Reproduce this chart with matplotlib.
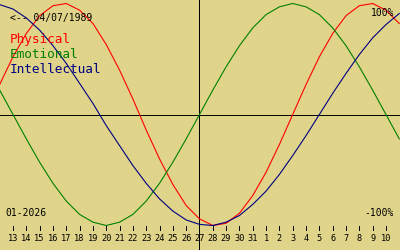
import matplotlib
matplotlib.use("Agg")
import matplotlib.pyplot as plt

# day offsets (0 = Jan 13) of the daily sample points, Jan 12 .. Feb 11
day_offsets = list(range(-1, 30))
tick_labels = [str(d) for d in range(13, 32)] + [str(d) for d in range(1, 11)]

physical = [27, 52, 73, 89, 98, 100, 94, 82, 63, 40, 14, -14, -40, -63, -82, -94,
            -100, -98, -89, -73, -52, -27, 0, 27, 52, 73, 89, 98, 100, 94, 82]
emotional = [22, 0, -22, -43, -62, -78, -90, -97, -100, -97, -90, -78, -62, -43, -22,
             0, 22, 43, 62, 78, 90, 97, 100, 97, 90, 78, 62, 43, 22, 0, -22]
intellectual = [99, 95, 87, 76, 62, 46, 28, 10, -10, -28, -46, -62, -76, -87, -95,
                -99, -100, -97, -91, -81, -69, -54, -37, -19, 0, 19, 37, 54, 69, 81, 91]

series_names = ["Physical", "Emotional", "Intellectual"]
series_colors = ["#ff0000", "#008000", "#000080"]
today_offset = 14
birth_text = "<-- 04/07/1989"
month_text = "01-2026"

BG = "#e0d48a"
W, H = 400, 250

fig = plt.figure(figsize=(W / 100, H / 100), dpi=100, facecolor=BG)
ax = fig.add_axes([0, 0, 1, 1])
ax.set_facecolor(BG)
for s in ax.spines.values():
    s.set_visible(False)
ax.set_xticks([])
ax.set_yticks([])

# pixel mapping: x_px = 13 + 13.32*d ; y_px = 114.5 - 1.11*v
PX_PER_DAY = 13.32
X0 = 13
YC, AMP = 114.5, 1.11
ax.set_xlim((0 - X0) / PX_PER_DAY, (W - X0) / PX_PER_DAY)
ax.set_ylim((YC - H) / AMP, YC / AMP)

def vy(py):
    return (YC - py) / AMP

mono = "DejaVu Sans Mono"
LW = 0.72

# axes lines
ax.axhline(0, color="black", lw=LW, antialiased=False, zorder=1)
ax.axvline(today_offset, color="black", lw=LW, antialiased=False, zorder=1)

for vals, col in zip([physical, emotional, intellectual], series_colors):
    ax.plot(day_offsets, vals, color=col, lw=0.8, antialiased=True, zorder=2)

# day ticks
tick_pos = list(range(len(tick_labels)))
ax.vlines(tick_pos, vy(230), vy(226), color="black", lw=LW, antialiased=False)
for p, lab in zip(tick_pos, tick_labels):
    ax.text(p, vy(241), lab, ha="center", va="baseline", fontsize=6.2,
            family=mono, color="black")

def ftext(px, py, s, **kw):
    fig.text(px / W, 1 - py / H, s, va="baseline", family=mono, **kw)

ftext(10, 20.7, birth_text, fontsize=7, color="black")
for i, (name, col) in enumerate(zip(series_names, series_colors)):
    ftext(10, 42.7 + 15 * i, name, fontsize=9.2, color=col)
ftext(394, 16, "100%", fontsize=7, color="black", ha="right")
ftext(394, 216, "-100%", fontsize=7, color="black", ha="right")
ftext(5, 216, month_text, fontsize=7, color="black")

fig.savefig("out.png", dpi=100, facecolor=BG)
